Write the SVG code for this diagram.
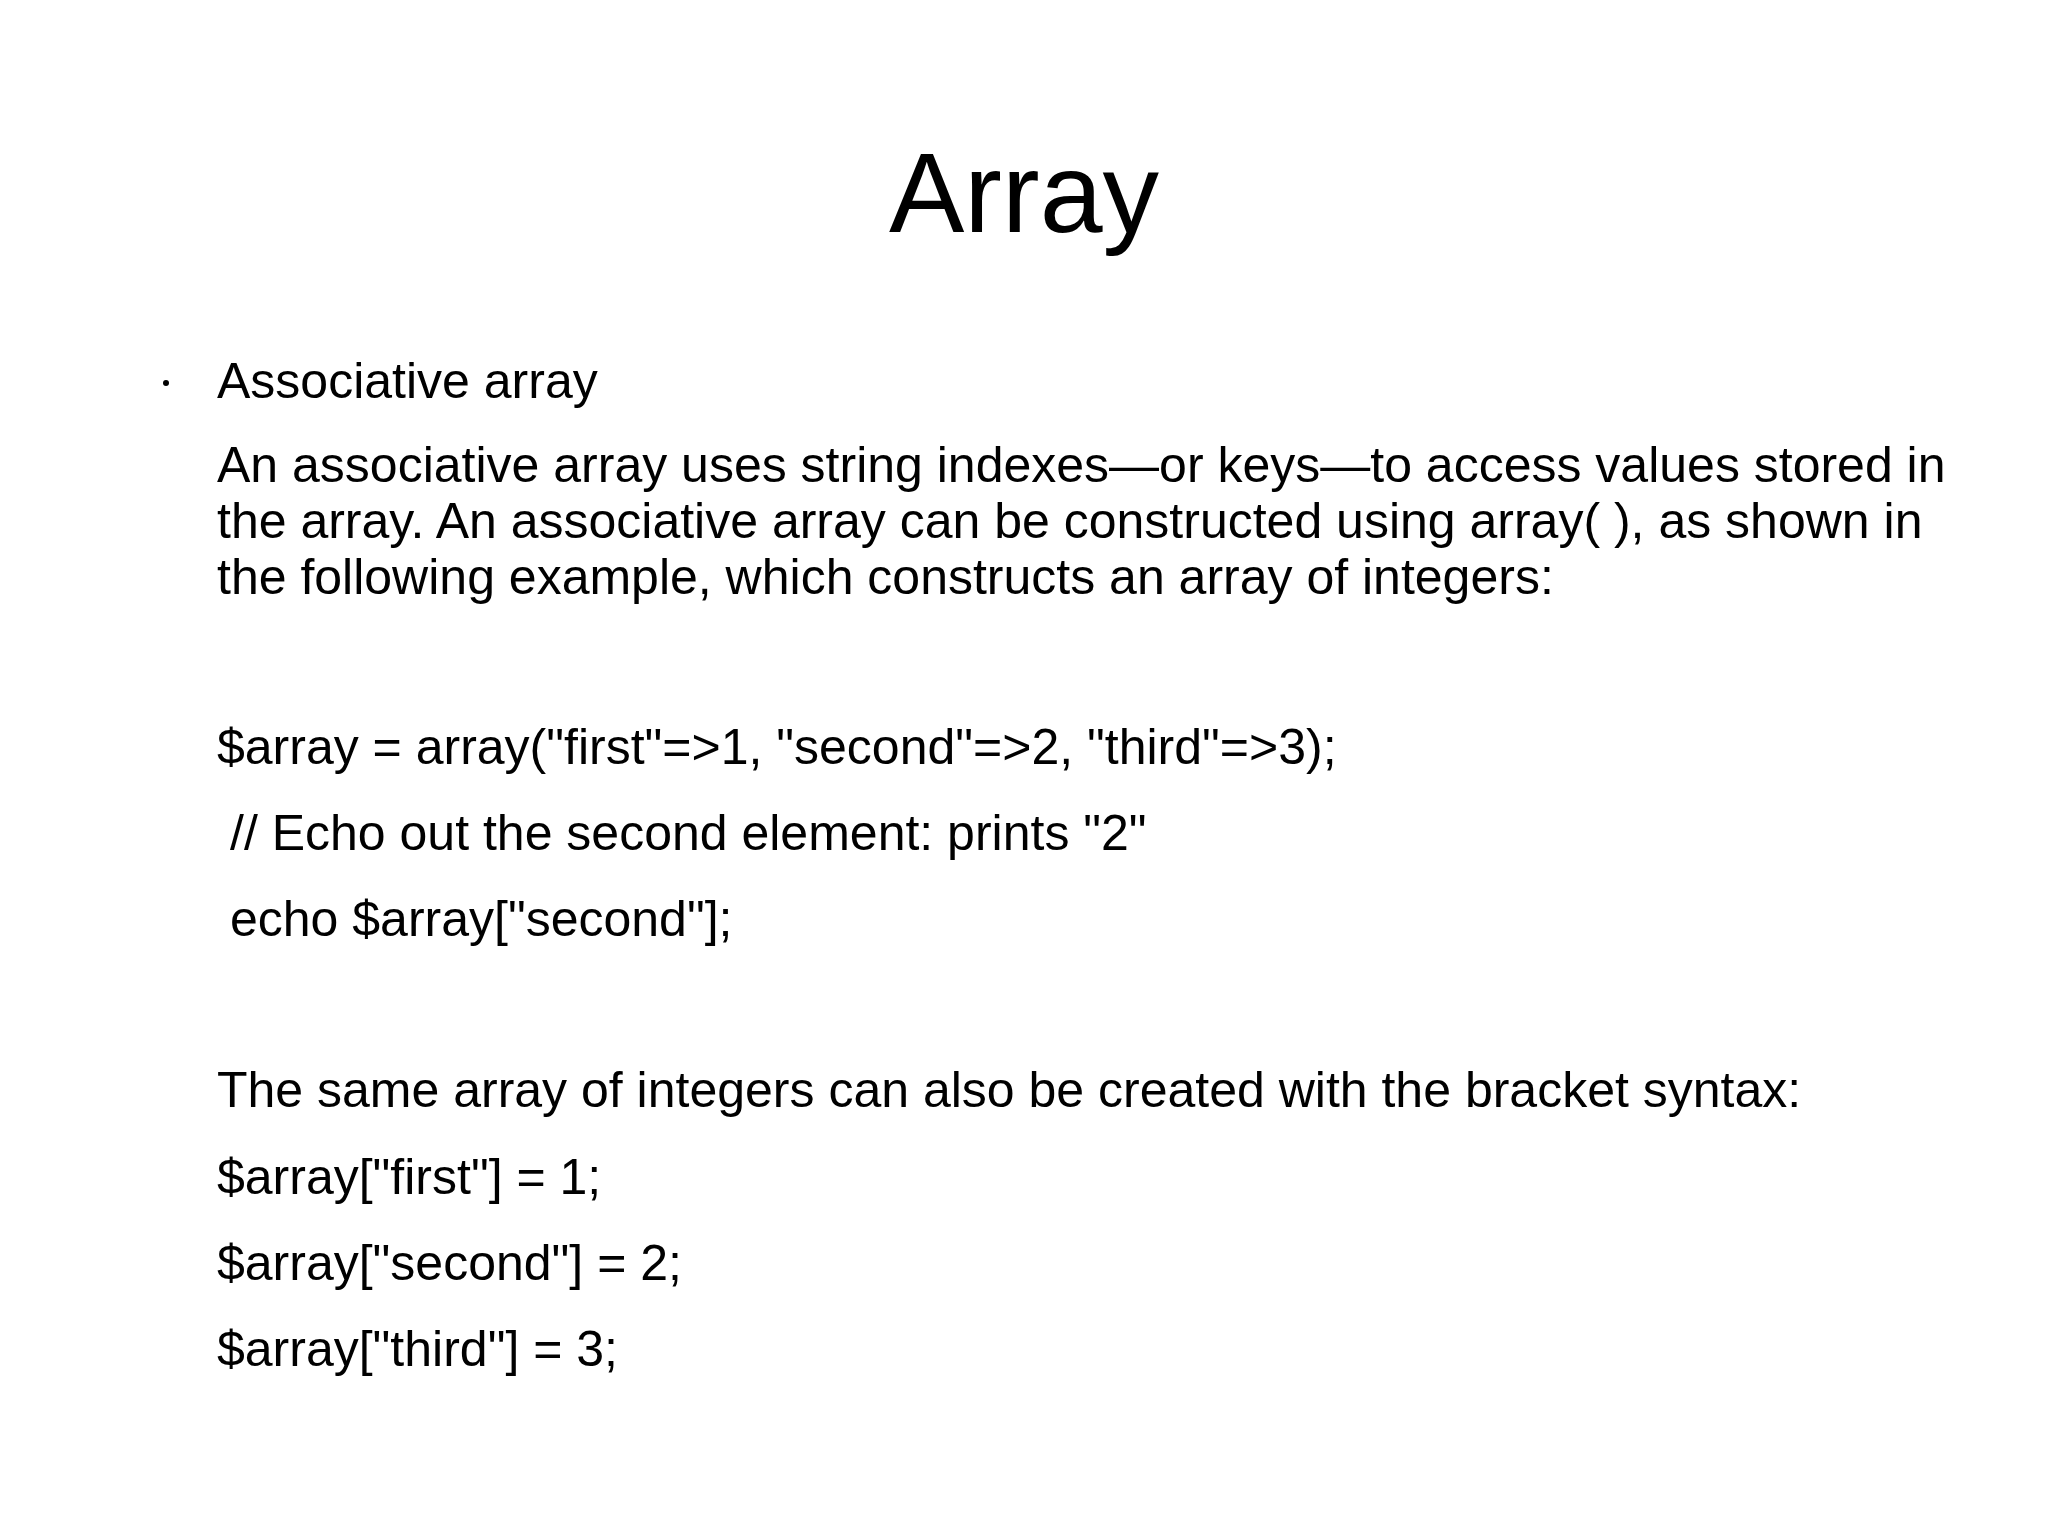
<svg xmlns="http://www.w3.org/2000/svg" width="2048" height="1535" viewBox="0 0 2048 1535">
<style>
text{font-family:"Liberation Sans",Arial,sans-serif;fill:#000}
.b{font-size:50px}
</style>
<rect width="2048" height="1535" fill="#fff"/>
<g id="title"><text x="1024" y="232" font-size="113" text-anchor="middle">Array</text></g>
<g id="body">
<circle cx="166" cy="383" r="3" fill="#000"/>
<text class="b" x="217" y="398">Associative array</text>
<text class="b" x="217" y="482">An associative array uses string indexes—or keys—to access values stored in</text>
<text class="b" x="217" y="538">the array. An associative array can be constructed using array( ), as shown in</text>
<text class="b" x="217" y="594">the following example, which constructs an array of integers:</text>
<text class="b" x="217" y="764">$array = array("first"=&gt;1, "second"=&gt;2, "third"=&gt;3);</text>
<text class="b" x="230" y="850">// Echo out the second element: prints "2"</text>
<text class="b" x="230" y="936">echo $array["second"];</text>
<text class="b" x="217" y="1107">The same array of integers can also be created with the bracket syntax:</text>
<text class="b" x="217" y="1194">$array["first"] = 1;</text>
<text class="b" x="217" y="1280">$array["second"] = 2;</text>
<text class="b" x="217" y="1366">$array["third"] = 3;</text>
</g>
</svg>
